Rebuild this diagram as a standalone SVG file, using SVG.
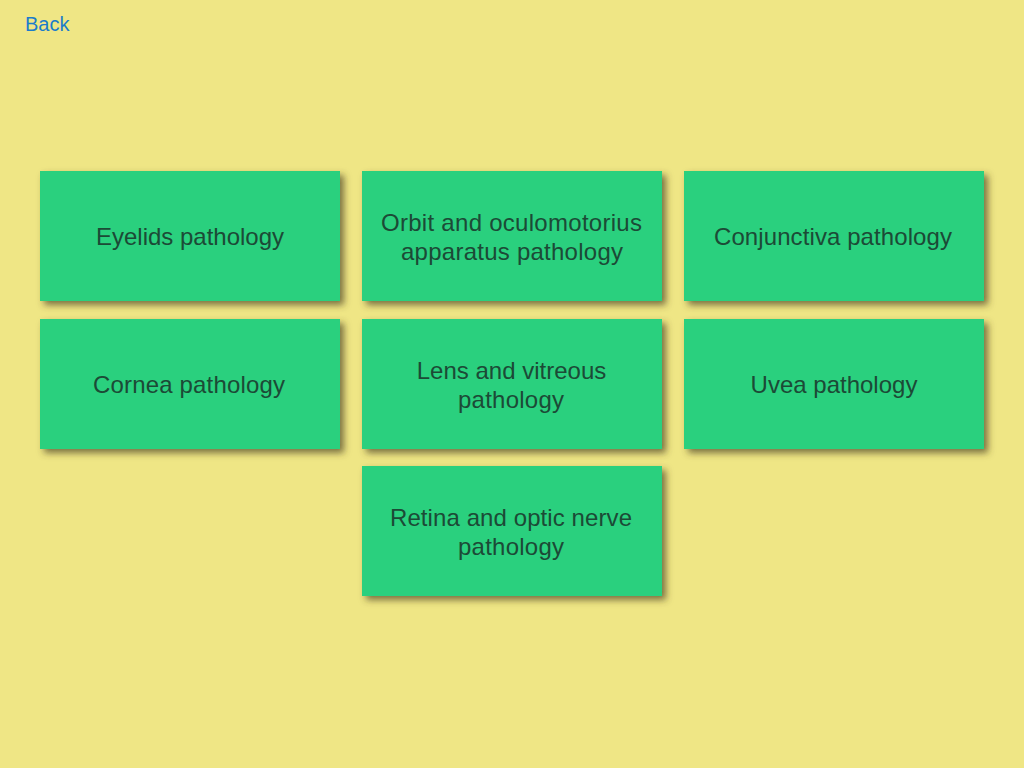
<svg xmlns="http://www.w3.org/2000/svg" width="1024" height="768" viewBox="0 0 1024 768">
<style>
.card{fill:#2CD07E;filter:url(#s)}
.t{font-family:"Liberation Sans",Arial,sans-serif;font-size:24px;fill:#1c4a36;text-anchor:middle}
.back{font-family:"Liberation Sans",Arial,sans-serif;font-size:20px;fill:#1b7ccb}
</style>
<defs><filter id="s" x="-10%" y="-10%" width="125%" height="130%"><feDropShadow dx="4" dy="4" stdDeviation="3.5" flood-color="#4a3f20" flood-opacity="0.7"/></filter></defs>
<rect width="1024" height="768" fill="#EFE685"/>
<text class="back" x="25" y="31">Back</text>
<g id="connectors"/>
<g id="n1"><rect class="card" x="40" y="171" width="300" height="130"/><text class="t" x="190" y="245">Eyelids pathology</text></g>
<g id="n2"><rect class="card" x="362" y="171" width="300" height="130"/><text class="t" x="511.5" y="230.500" textLength="261">Orbit and oculomotorius</text><text class="t" x="512" y="260" textLength="222">apparatus pathology</text></g>
<g id="n3"><rect class="card" x="684" y="171" width="300" height="130"/><text class="t" x="833" y="245" textLength="238">Conjunctiva pathology</text></g>
<g id="n4"><rect class="card" x="40" y="319" width="300" height="130"/><text class="t" x="189" y="393" textLength="192">Cornea pathology</text></g>
<g id="n5"><rect class="card" x="362" y="319" width="300" height="130"/><text class="t" x="511.500" y="379">Lens and vitreous</text><text class="t" x="511" y="408" textLength="106">pathology</text></g>
<g id="n6"><rect class="card" x="684" y="319" width="300" height="130"/><text class="t" x="834" y="393">Uvea pathology</text></g>
<g id="n7"><rect class="card" x="362" y="466" width="300" height="130"/><text class="t" x="511" y="526" textLength="242">Retina and optic nerve</text><text class="t" x="511" y="555" textLength="106">pathology</text></g>
</svg>
